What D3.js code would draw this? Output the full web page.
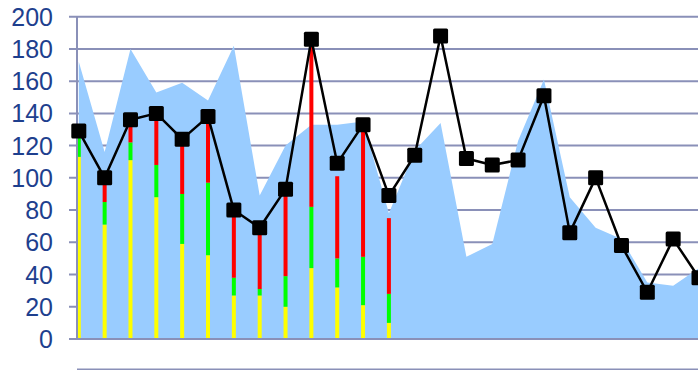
<!DOCTYPE html>
<html>
<head>
<meta charset="utf-8">
<script src="https://cdn.jsdelivr.net/npm/d3@7"></script>
<style>
  html, body { margin: 0; padding: 0; background: #ffffff; }
  svg { display: block; }
</style>
</head>
<body>
<svg id="chart" width="698" height="370"></svg>
<script>
// Category positions (25 periods)
const categories = d3.range(1, 26);

// Background area series
const areaValues = [172, 116, 180, 153, 159, 148, 182, 89, 120, 133, 133, 135, 78, 117, 134, 51, 59, 123, 161, 88, 69, 62, 35, 33, 44];

// Line series with square markers
const lineValues = [129, 100, 136, 140, 124, 138, 80, 69, 93, 186, 109, 133, 89, 114, 188, 112, 108, 111, 151, 66, 100, 58, 29, 62, 38];

// Stacked thin columns (first 13 periods)
const yellowValues = [113, 71, 111, 88, 59, 52, 27, 27, 20, 44, 32, 21, 10];
const greenValues  = [12, 14, 11, 20, 31, 45, 11, 4, 19, 38, 18, 30, 18];
const redValues    = [4, 15, 14, 32, 34, 41, 42, 38, 54, 104, 51, 82, 47];

// Y axis ticks
const yTicks = [0, 20, 40, 60, 80, 100, 120, 140, 160, 180, 200];

const svg = d3.select("#chart");

const axisLeftX = 77;
const plotRight = 698;
const x = d3.scalePoint().domain(categories).range([78.8, 699]);
const y = d3.scaleLinear().domain([0, 200]).range([339, 16.7]);

const gridColor = "#8A90B8";
const labelColor = "#1E3F8E";

// Horizontal gridlines (extend left as tick marks)
svg.append("g")
  .selectAll("line")
  .data(yTicks)
  .join("line")
  .attr("x1", 69)
  .attr("x2", plotRight)
  .attr("y1", d => y(d))
  .attr("y2", d => y(d))
  .attr("stroke", gridColor)
  .attr("stroke-width", 2);

// Y tick labels
svg.append("g")
  .selectAll("text")
  .data(yTicks)
  .join("text")
  .attr("x", 53)
  .attr("y", d => y(d))
  .attr("dy", "0.36em")
  .attr("text-anchor", "end")
  .attr("font-family", "'Liberation Sans', Arial, sans-serif")
  .attr("font-size", 25)
  .attr("fill", labelColor)
  .text(d => d);

// Area
const areaData = categories.map((c, i) => ({ c, v: areaValues[i] }));
svg.append("path")
  .datum(areaData)
  .attr("fill", "#99CCFF")
  .attr("d", d3.area()
    .x(d => x(d.c))
    .y0(y(0))
    .y1(d => y(d.v)));

// Stacked thin columns
const stackRows = yellowValues.map((v, i) => ({
  c: categories[i], yellow: v, green: greenValues[i], red: redValues[i]
}));
const stack = d3.stack().keys(["yellow", "green", "red"]);
const stackColors = { yellow: "#FFFF00", green: "#00FF00", red: "#FF0000" };
const barW = 4;
svg.append("g")
  .selectAll("g")
  .data(stack(stackRows))
  .join("g")
  .attr("fill", s => stackColors[s.key])
  .selectAll("rect")
  .data(s => s)
  .join("rect")
  .attr("x", d => x(d.data.c) - barW / 2)
  .attr("width", barW)
  .attr("y", d => y(d[1]))
  .attr("height", d => y(d[0]) - y(d[1]));

// Axis lines
svg.append("line")
  .attr("x1", 69).attr("x2", plotRight)
  .attr("y1", y(0)).attr("y2", y(0))
  .attr("stroke", gridColor).attr("stroke-width", 2);
svg.append("line")
  .attr("x1", axisLeftX).attr("x2", axisLeftX)
  .attr("y1", y(200)).attr("y2", y(0))
  .attr("stroke", gridColor).attr("stroke-width", 2);

// Lower baseline
svg.append("line")
  .attr("x1", axisLeftX).attr("x2", plotRight)
  .attr("y1", 369.3).attr("y2", 369.3)
  .attr("stroke", gridColor).attr("stroke-width", 1.5);

// Line series
const lineData = categories.map((c, i) => ({ c, v: lineValues[i] }));
svg.append("path")
  .datum(lineData)
  .attr("fill", "none")
  .attr("stroke", "#000000")
  .attr("stroke-width", 2.5)
  .attr("stroke-linejoin", "round")
  .attr("d", d3.line().x(d => x(d.c)).y(d => y(d.v)));

// Square markers
const m = 15;
svg.append("g")
  .selectAll("rect")
  .data(lineData)
  .join("rect")
  .attr("x", d => x(d.c) - m / 2)
  .attr("y", d => y(d.v) - m / 2)
  .attr("width", m)
  .attr("height", m)
  .attr("rx", 1.5)
  .attr("fill", "#000000");
</script>
</body>
</html>
